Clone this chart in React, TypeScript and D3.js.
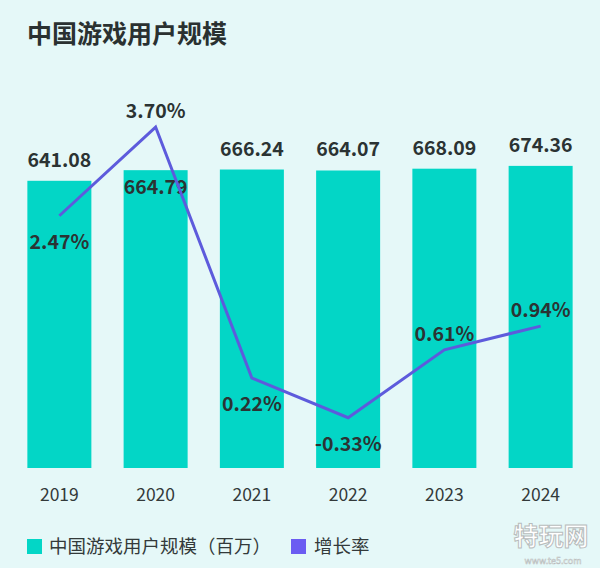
import React from "react";
import * as d3 from "d3";

const years = ["2019", "2020", "2021", "2022", "2023", "2024"];
const users = [641.08, 664.79, 666.24, 664.07, 668.09, 674.36];
const growth = [2.47, 3.7, 0.22, -0.33, 0.61, 0.94];
const growthLabels = ["2.47%", "3.70%", "0.22%", "-0.33%", "0.61%", "0.94%"];
const growthLabelBelow = [true, false, true, true, false, false];
const userLabelInside = [false, true, false, false, false, false];

const W = 600;
const H = 568;
const FONT = "'Noto Sans CJK SC', 'Noto Sans', sans-serif";
const BG = "#e5f8f8";
const BAR = "#03d6c6";
const LINE = "#5d5bdc";
const LEG_PURPLE = "#6b5cf2";
const TEXT = "#2b3333";

export default function App() {
  const x = d3.scaleBand<string>().domain(years).range([11, 589]).paddingInner(0.335).paddingOuter(0.17);
  const yBar = d3.scaleLinear().domain([0, 700]).range([468, 154.4]);
  const yLine = d3.scaleLinear().domain([-1, 4]).range([466, 105.4]);
  const cx = (y: string) => (x(y) ?? 0) + x.bandwidth() / 2;
  const line = d3
    .line<number>()
    .x((_, i) => cx(years[i]))
    .y((d) => yLine(d));

  return (
    <svg
      width={W}
      height={H}
      style={{ position: "fixed", left: 0, top: 0, display: "block", background: BG }}
      fontFamily={FONT}
    >
      <rect x={0} y={0} width={W} height={H} fill={BG} />
      <text x={27} y={43} fontSize={25} fontWeight={700} fill="#2a3131">
        中国游戏用户规模
      </text>

      {years.map((yr, i) => (
        <rect
          key={yr}
          x={x(yr)}
          y={yBar(users[i])}
          width={x.bandwidth()}
          height={yBar(0) - yBar(users[i])}
          fill={BAR}
        />
      ))}

      {years.map((yr, i) => (
        <text
          key={"ul" + yr}
          x={cx(yr)}
          y={userLabelInside[i] ? yBar(users[i]) + 24 : yBar(users[i]) - 14}
          textAnchor="middle"
          fontSize={19.5}
          fontWeight={700}
          fill={TEXT}
        >
          {users[i].toFixed(2)}
        </text>
      ))}

      <path d={line(growth) ?? ""} fill="none" stroke={LINE} strokeWidth={3} strokeLinejoin="miter" />

      {years.map((yr, i) => (
        <text
          key={"gl" + yr}
          x={cx(yr)}
          y={growthLabelBelow[i] ? yLine(growth[i]) + 33 : yLine(growth[i]) - 9}
          textAnchor="middle"
          fontSize={19.5}
          fontWeight={700}
          fill={TEXT}
        >
          {growthLabels[i]}
        </text>
      ))}

      {years.map((yr) => (
        <text key={"xl" + yr} x={cx(yr)} y={501} textAnchor="middle" fontSize={17.5} fill="#333a3a">
          {yr}
        </text>
      ))}

      <rect x={27} y={539} width={15} height={15} fill={BAR} />
      <text x={49} y={553} fontSize={18.5} fill="#333a3a">
        中国游戏用户规模（百万）
      </text>
      <rect x={291} y={539} width={15} height={15} fill={LEG_PURPLE} />
      <text x={314} y={553} fontSize={18.5} fill="#333a3a">
        增长率
      </text>

      <text x={551} y={545} textAnchor="middle" fontSize={25} fontWeight={700} fill="#ffffff" stroke="#b8bcbc" strokeWidth={1}>
        特玩网
      </text>
      <text x={553} y={564} textAnchor="middle" fontSize={9} fill="#ffffff" stroke="#b8bcbc" strokeWidth={0.5}>
        www.te5.com
      </text>
    </svg>
  );
}
